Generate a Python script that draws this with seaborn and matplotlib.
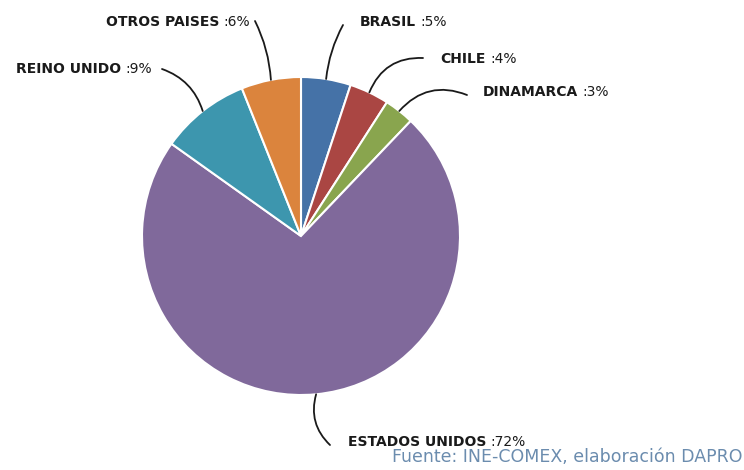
import numpy as np
import matplotlib
matplotlib.use('Agg')
import matplotlib.pyplot as plt
import seaborn as sns

paises = ['BRASIL', 'CHILE', 'DINAMARCA', 'ESTADOS UNIDOS', 'REINO UNIDO', 'OTROS PAISES']
porcentajes = [5, 4, 3, 72, 9, 6]
colores = ['#4572a7', '#aa4643', '#89a54e', '#80699b', '#3d96ae', '#db843d']
fuente = 'Fuente: INE-COMEX, elaboración DAPRO'

sns.set_style('white')
plt.rcParams['font.family'] = ['DejaVu Sans']

W, H = 744, 470
cx, cy, R = 301, 236, 159  # pixel centre / radius


def px(x, y):
    # pixel coords (top-left origin) -> data coords
    return (x - cx) / R, (cy - y) / R


fig = plt.figure(figsize=(W / 100, H / 100), dpi=100)
ax = fig.add_axes([0, 0, 1, 1])
wedges, _ = ax.pie(porcentajes, colors=sns.color_palette(colores), startangle=90,
                   counterclock=False, radius=1,
                   wedgeprops=dict(edgecolor='white', linewidth=1.5))
ax.set_xlim(-cx / R, (W - cx) / R)
ax.set_ylim(-(H - cy) / R, cy / R)
ax.set_aspect('auto')
ax.axis('off')

# label layout: (split x, y centre, leader end x, leader end y, rad)
layout = {
    'BRASIL': (416, 22, 343, 25, 0.1),
    'CHILE': (486, 59, 423, 58, 0.35),
    'DINAMARCA': (578, 92, 467, 95, 0.35),
    'ESTADOS UNIDOS': (486, 442, 330, 445, -0.3),
    'REINO UNIDO': (121, 69, 162, 69, -0.25),
    'OTROS PAISES': (219, 22, 255, 21, -0.1),
}

for w, nombre, val in zip(wedges, paises, porcentajes):
    ang = np.deg2rad((w.theta1 + w.theta2) / 2)
    ex, ey = np.cos(ang), np.sin(ang)
    sx, sy, lx, ly, rad = layout[nombre]
    tx, ty = px(sx, sy)
    ax.text(tx, ty, nombre, ha='right', va='center', fontsize=10,
            fontweight='bold', color='#1a1a1a')
    ax.text(tx + 4 / R, ty, f':{val}%', ha='left', va='center', fontsize=10,
            color='#1a1a1a')
    ax.annotate('', xy=(ex, ey), xytext=px(lx, ly),
                arrowprops=dict(arrowstyle='-', color='#1a1a1a', lw=1.3,
                                connectionstyle=f'arc3,rad={rad}',
                                shrinkA=0, shrinkB=0))

fig.text(742 / W, 1 - 457 / H, fuente, ha='right', va='center', fontsize=12.5,
         color='#6b8cae')

fig.savefig('out.png', dpi=100)
